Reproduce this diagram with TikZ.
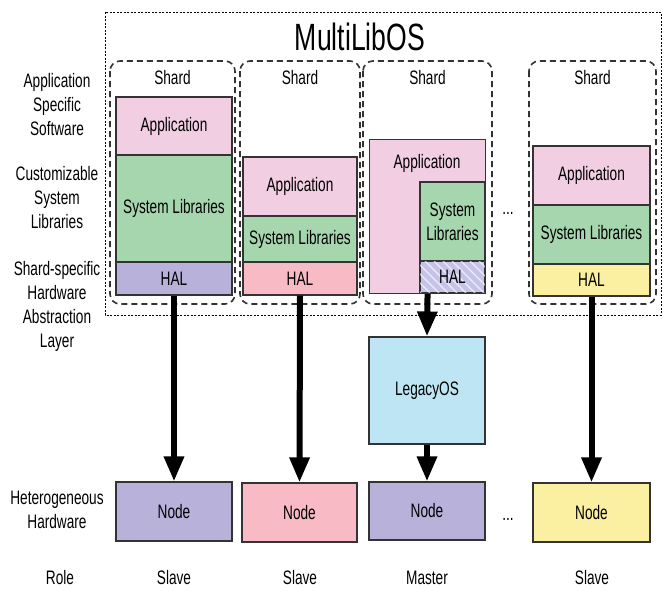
\documentclass[tikz,border=0pt]{standalone}
\usepackage{fontspec}
\setmainfont{Liberation Sans}[FakeStretch=0.7]
\usetikzlibrary{arrows.meta,calc}
\definecolor{appc}{HTML}{F2CEE2}
\definecolor{libc}{HTML}{A6D6AE}
\definecolor{halp}{HTML}{B8B2DA}
\definecolor{halr}{HTML}{F8BAC4}
\definecolor{haly}{HTML}{FBEFA1}
\definecolor{halh}{HTML}{C6C3E8}
\definecolor{legc}{HTML}{BEE5F3}
\definecolor{edge}{HTML}{333333}
\begin{document}
\begin{tikzpicture}[x=1pt,y=-1pt,
  every node/.style={font=\fontsize{19.5}{24}\selectfont, text=black},
  blk/.style={draw=edge, line width=1.1pt, rectangle, inner sep=0pt, align=center},
  shardbox/.style={draw=edge, line width=1.6pt, dash pattern=on 6pt off 4pt, rounded corners=10pt},
  outerbox/.style={draw=black, line width=0.8pt, dash pattern=on 2pt off 1.5pt},
  flow/.style={line width=6pt, -{Triangle[length=25pt,width=19pt]}},
  side/.style={align=center}]
\useasboundingbox (0,0) rectangle (670,590);

% MultiLibOS frame and title
\draw[outerbox] (105,12) rectangle (661,315);
\node (title) at (360,37) {\fontsize{38}{40}\selectfont MultiLibOS};

% shard frames
\draw[shardbox] (110,61) rectangle (235,304);
\draw[shardbox] (240,61) rectangle (360,304);
\draw[shardbox] (363,61) rectangle (492,304);
\draw[shardbox] (529,61) rectangle (656,304);
\node (sh1) at (172.5,78) {Shard};
\node (sh2) at (300,78) {Shard};
\node (sh3) at (427.5,78) {Shard};
\node (sh4) at (592.5,78) {Shard};

% shard 1
\node[blk, fill=appc, minimum width=116pt, minimum height=58pt] (app1) at (174,126) {Application};
\node[blk, fill=libc, minimum width=116pt, minimum height=107pt] (lib1) at (174,208.5) {System Libraries};
\node[blk, fill=halp, minimum width=116pt, minimum height=33pt] (hal1) at (174,278.5) {HAL};

% shard 2
\node[blk, fill=appc, minimum width=114pt, minimum height=59pt] (app2) at (300,186.5) {Application};
\node[blk, fill=libc, minimum width=114pt, minimum height=46pt] (lib2) at (300,239) {System Libraries};
\node[blk, fill=halr, minimum width=114pt, minimum height=33pt] (hal2) at (300,278.5) {HAL};

% shard 3: application wraps libraries and hybrid HAL
\node[blk, fill=appc, minimum width=116pt, minimum height=154pt, anchor=north west] (app3) at (369,139) {};
\node (app3t) at (427,163) {Application};
\node[blk, fill=libc, minimum width=65pt, minimum height=79pt] (lib3) at (452.5,221.5) {System\\Libraries};
\node[blk, fill=halh, minimum width=65pt, minimum height=32pt] (hal3) at (452.5,277) {};
\begin{scope}
  \clip (hal3.north west) rectangle (hal3.south east);
  \foreach \k in {-40,-31,...,70}
    \draw[white, opacity=0.7, line width=1.4pt] (420+\k,261) -- (452+\k,293);
\end{scope}
\draw[edge, line width=1.1pt] (hal3.north west) rectangle (hal3.south east);
\node at (hal3) {HAL};

% shard 4
\node[blk, fill=appc, minimum width=117pt, minimum height=59pt] (app4) at (591.5,175.5) {Application};
\node[blk, fill=libc, minimum width=117pt, minimum height=59pt] (lib4) at (591.5,234.5) {System Libraries};
\node[blk, fill=haly, minimum width=117pt, minimum height=32pt] (hal4) at (591.5,280) {HAL};

\node (dots1) at (508,213) {...};

% legacy OS and hardware nodes
\node[blk, fill=legc, minimum width=116pt, minimum height=107pt] (legacy) at (427,390.5) {LegacyOS};
\node[blk, fill=halp, minimum width=116pt, minimum height=59pt] (node1) at (174,511.5) {Node};
\node[blk, fill=halr, minimum width=115pt, minimum height=59pt] (node2) at (299.5,512.5) {Node};
\node[blk, fill=halp, minimum width=116pt, minimum height=58pt] (node3) at (427,511) {Node};
\node[blk, fill=haly, minimum width=117pt, minimum height=59pt] (node4) at (591.5,512.5) {Node};
\node (dots2) at (508,519) {...};

% connectors
\draw[flow] (hal1.south) -- (node1.north);
\draw[flow] (hal2.south) -- (node2.north);
\draw[flow] (app3.south) -- (legacy.north);
\draw[flow] (legacy.south) -- (node3.north);
\draw[flow] (hal4.south) -- (node4.north);

% row labels
\node[side] (l1) at (57,105) {Application\\Specific\\Software};
\node[side] (l2) at (57,198) {Customizable\\System\\Libraries};
\node[side] (l3) at (57,306.5) {Shard-specific\\Hardware\\Abstraction\\Layer};
\node[side] (l4) at (57,510) {Heterogeneous\\Hardware};
\node (role) at (60,578) {Role};
\node (r1) at (174,578) {Slave};
\node (r2) at (300,578) {Slave};
\node (r3) at (427,578) {Master};
\node (r4) at (592,578) {Slave};
\end{tikzpicture}
\end{document}
